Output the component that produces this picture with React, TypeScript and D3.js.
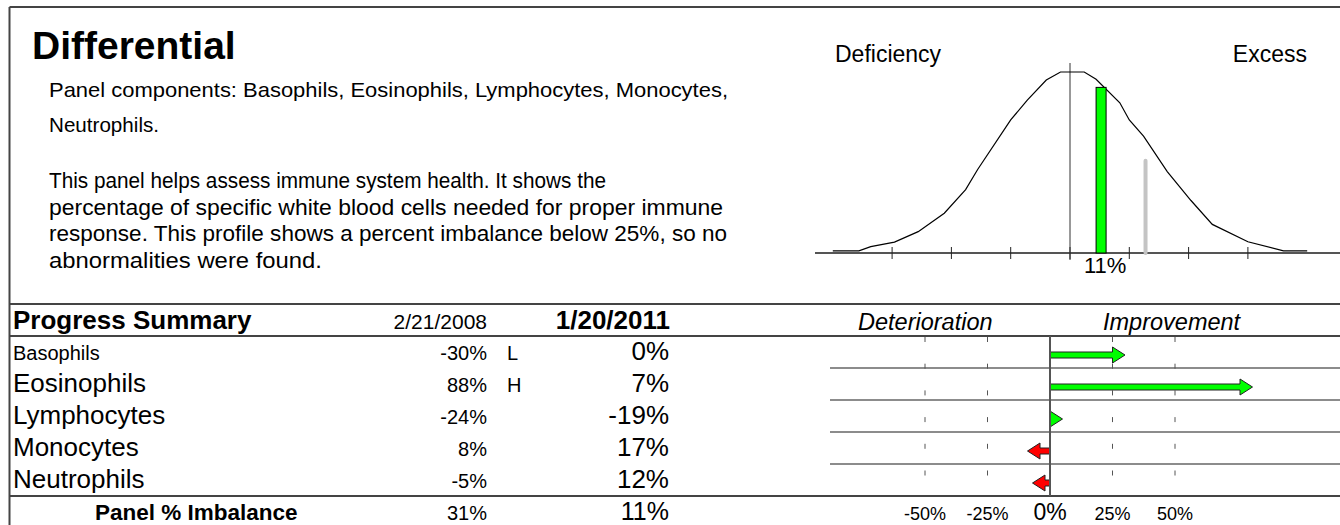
import React from 'react';
import * as d3 from 'd3';

// ---- data ----
const components = ['Basophils', 'Eosinophils', 'Lymphocytes', 'Monocytes', 'Neutrophils'];
const previousValues = [-30, 88, -24, 8, -5];
const previousFlags = ['L', 'H', '', '', ''];
const currentValues = [0, 7, -19, 17, 12];
const dates = ['2/21/2008', '1/20/2011'];
const imbalance = [31, 11];
const changeTicks = [-50, -25, 0, 25, 50];
const curveTicks = [-75, -50, -25, 0, 25, 50, 75];

// distribution curve: percent imbalance vs relative height
const curvePct = [-100, -89, -84, -74, -64, -53, -44, -39, -25, -18, -10, -4, 6, 11, 21, 25, 31, 41, 51, 60, 75, 90, 100];
const curveHeight = [0.012, 0.012, 0.035, 0.06, 0.118, 0.22, 0.35, 0.46, 0.735, 0.845, 0.956, 1, 1, 0.96, 0.83, 0.735, 0.646, 0.45, 0.29, 0.158, 0.062, 0.012, 0.012];
const markerHeights = [0.51, 0.915]; // previous (grey), current (green)

const font = '"Liberation Sans", Arial, Helvetica, sans-serif';
const LINE = '#444';

const introLines = ['Panel components: Basophils, Eosinophils, Lymphocytes, Monocytes,', 'Neutrophils.'];
const bodyLines = [
  'This panel helps assess immune system health. It shows the',
  'percentage of specific white blood cells needed for proper immune',
  'response. This profile shows a percent imbalance below 25%, so no',
  'abnormalities were found.',
];
// measured widths of the wrapped lines
const introWidths = [679, 110];
const bodyWidths = [557, 674, 678, 273];

function arrowPath(x0: number, x1: number, cy: number) {
  const dir = x1 >= x0 ? 1 : -1;
  const len = Math.abs(x1 - x0);
  const L = Math.min(12.5, len);
  const h = 3;
  const H = 8;
  const xb = x1 - dir * L;
  if (len <= 12.5) {
    return `M${x0},${cy - H}L${x1},${cy}L${x0},${cy + H}Z`;
  }
  return `M${x0},${cy - h}L${xb},${cy - h}L${xb},${cy - H}L${x1},${cy}L${xb},${cy + H}L${xb},${cy + h}L${x0},${cy + h}Z`;
}

const App: React.FC = () => {
  const width = 1340;
  const height = 525;

  // bell curve scales
  const curveX = d3.scaleLinear().domain([-100, 100]).range([832.8, 1307.2]);
  const curveY = d3.scaleLinear().domain([0, 1]).range([253, 72]);
  const curveLine = d3
    .line<number>()
    .x((_d, i) => curveX(curvePct[i]))
    .y(d => curveY(d));

  // progress table scales
  const rowY = d3.scaleBand().domain(components).range([336, 496]);
  const changeX = d3.scaleLinear().domain([-50, 50]).range([925, 1175]);
  const changes = components.map((_c, i) => Math.abs(previousValues[i]) - Math.abs(currentValues[i]));

  const fmt = (v: number) => `${v}%`;

  return (
    <div style={{ position: 'absolute', left: 0, top: 0 }}>
      <svg width={width} height={height} style={{ display: 'block', background: '#fff' }} fontFamily={font}>
        {/* frame */}
        <line x1={9.5} x2={width} y1={7} y2={7} stroke={LINE} strokeWidth={2} />
        <line x1={9.5} x2={9.5} y1={7} y2={height} stroke={LINE} strokeWidth={2} />
        <line x1={9.5} x2={width} y1={304} y2={304} stroke={LINE} strokeWidth={2} />
        <line x1={9.5} x2={width} y1={336} y2={336} stroke={LINE} strokeWidth={2} />
        <line x1={9.5} x2={width} y1={496} y2={496} stroke={LINE} strokeWidth={2} />

        {/* description */}
        <text x={32} y={59} fontSize={39} fontWeight="bold">Differential</text>
        {introLines.map((t, i) => (
          <text key={t} x={49} y={97 + i * 35} fontSize={21} textLength={introWidths[i]} lengthAdjust="spacingAndGlyphs">
            {t}
          </text>
        ))}
        {bodyLines.map((t, i) => (
          <text key={t} x={49} y={188 + i * 26.5} fontSize={21.5} textLength={bodyWidths[i]} lengthAdjust="spacingAndGlyphs">
            {t}
          </text>
        ))}

        {/* distribution */}
        <text x={835} y={62} fontSize={23}>Deficiency</text>
        <text x={1307} y={62} fontSize={23} textAnchor="end">Excess</text>
        <line x1={815} x2={width} y1={253} y2={253} stroke="#555" strokeWidth={2} />
        {curveTicks.map(t => (
          <line key={t} x1={curveX(t)} x2={curveX(t)} y1={247} y2={259} stroke="#222" strokeWidth={1} />
        ))}
        <line x1={curveX(0)} x2={curveX(0)} y1={63} y2={260} stroke="#333" strokeWidth={1} />
        <path d={curveLine(curveHeight) || ''} fill="none" stroke="#000" strokeWidth={1.2} />
        <line
          x1={curveX(imbalance[0]) + 2}
          x2={curveX(imbalance[0]) + 2}
          y1={curveY(markerHeights[0])}
          y2={curveY(0)}
          stroke="#c4c4c4"
          strokeWidth={4}
          strokeLinecap="round"
        />
        <rect
          x={curveX(imbalance[1])}
          y={curveY(markerHeights[1])}
          width={10}
          height={curveY(0) - curveY(markerHeights[1])}
          fill="#00ff00"
          stroke="#000"
          strokeWidth={1}
        />
        <text x={curveX(imbalance[1]) + 9} y={273} fontSize={22} textAnchor="middle">{fmt(imbalance[1])}</text>

        {/* progress summary header */}
        <text x={13} y={329} fontSize={26} fontWeight="bold">Progress Summary</text>
        <text x={487} y={329} fontSize={21} textAnchor="end">{dates[0]}</text>
        <text x={670} y={329} fontSize={26} fontWeight="bold" textAnchor="end">{dates[1]}</text>
        <text x={858} y={330} fontSize={23.5} fontStyle="italic">Deterioration</text>
        <text x={1103} y={330} fontSize={23.5} fontStyle="italic">Improvement</text>

        {/* row lines */}
        {components.slice(1).map(c => (
          <line key={c} x1={830} x2={width} y1={rowY(c)} y2={rowY(c)} stroke="#666" strokeWidth={1.5} />
        ))}

        {/* dashed guides */}
        {changeTicks.filter(t => t !== 0).map(t => (
          <line
            key={t}
            x1={changeX(t)}
            x2={changeX(t)}
            y1={337}
            y2={496}
            stroke="#555"
            strokeWidth={1}
            strokeDasharray="5 21.7"
          />
        ))}

        {/* rows */}
        {components.map((c, i) => {
          const y0 = rowY(c) || 0;
          const small = i === 0;
          const cy = y0 + rowY.bandwidth() / 2 + 3;
          const v = changes[i];
          return (
            <g key={c}>
              <text x={13} y={y0 + 24} fontSize={small ? 20 : 26}>{c}</text>
              <text x={487} y={y0 + 24} fontSize={20} textAnchor="end">{fmt(previousValues[i])}</text>
              <text x={507} y={y0 + 24} fontSize={20}>{previousFlags[i]}</text>
              <text x={669} y={y0 + 24} fontSize={26} textAnchor="end">{fmt(currentValues[i])}</text>
              <path
                d={arrowPath(changeX(0), changeX(v), cy)}
                fill={v >= 0 ? '#00ff00' : '#ff0000'}
                stroke="#222"
                strokeWidth={1}
              />
            </g>
          );
        })}

        <line x1={changeX(0)} x2={changeX(0)} y1={336} y2={496} stroke="#555" strokeWidth={2} />

        {/* imbalance row */}
        <text x={95} y={520} fontSize={22.5} fontWeight="bold">Panel % Imbalance</text>
        <text x={487} y={520} fontSize={20} textAnchor="end">{fmt(imbalance[0])}</text>
        <text x={669} y={520} fontSize={25} textAnchor="end">{fmt(imbalance[1])}</text>

        {/* change axis labels */}
        {changeTicks.map(t => (
          <text key={t} x={changeX(t)} y={520} fontSize={t === 0 ? 23 : 18} textAnchor="middle">
            {fmt(t)}
          </text>
        ))}
      </svg>
    </div>
  );
};

export default App;
